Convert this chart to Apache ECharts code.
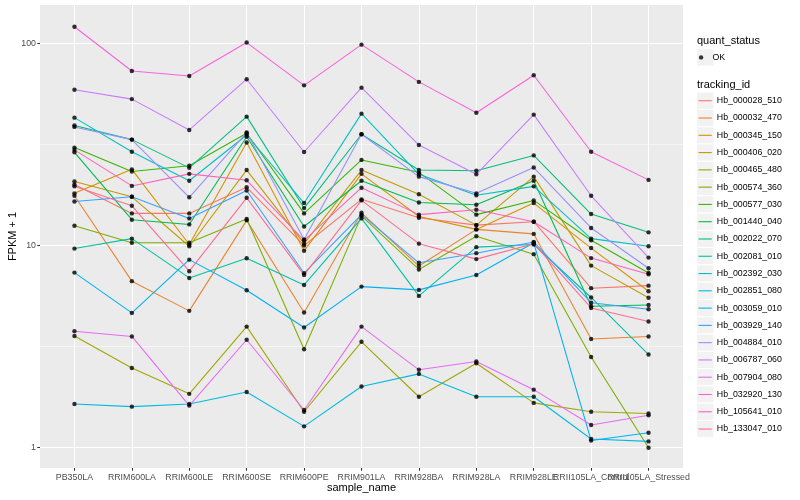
<!DOCTYPE html>
<html><head><meta charset="utf-8">
<script src="https://cdn.jsdelivr.net/npm/echarts@6/dist/echarts.min.js"></script>
<style>html,body{margin:0;padding:0;background:#fff}#c{width:800px;height:500px}</style>
</head><body><div id="c"></div><script>
const categories = ['PB350LA','RRIM600LA','RRIM600LE','RRIM600SE','RRIM600PE','RRIM901LA','RRIM928BA','RRIM928LA','RRIM928LE','RRII105LA_Control','RRII105LA_Stressed'];
const trackingIds = ['Hb_000028_510','Hb_000032_470','Hb_000345_150','Hb_000406_020','Hb_000465_480','Hb_000574_360','Hb_000577_030','Hb_001440_040','Hb_002022_070','Hb_002081_010','Hb_002392_030','Hb_002851_080','Hb_003059_010','Hb_003929_140','Hb_004884_010','Hb_006787_060','Hb_007904_080','Hb_032920_130','Hb_105641_010','Hb_133047_010'];
const colors = ['#F8766D','#EA8331','#D89000','#C09B00','#A3A500','#7CAE00','#39B600','#00BB4E','#00BF7D','#00C1A3','#00BFC4','#00BAE0','#00B0F6','#35A2FF','#9590FF','#C77CFF','#E76BF3','#FA62DB','#FF62BC','#FF6C91'];
const yTickLabels = [1, 10, 100];

const hb_000028_510 = [20.0, 14.4, 14.4, 19.4, 9.99, 16.9, 13.7, 12.6, 13.1, 6.14, 6.32];
const hb_000032_470 = [17.6, 6.65, 4.74, 13.3, 4.65, 14.5, 7.9, 12.0, 11.4, 3.44, 3.54];
const hb_000345_150 = [18.1, 23.8, 10.1, 32.3, 9.4, 22.6, 13.9, 12.0, 16.2, 9.7, 5.93];
const hb_000406_020 = [20.7, 17.4, 9.9, 23.6, 10.2, 23.6, 17.9, 12.6, 21.9, 7.94, 5.5];
const hb_000465_480 = [3.56, 2.47, 1.84, 3.96, 1.50, 3.33, 1.78, 2.61, 1.66, 1.50, 1.47];
const hb_000574_360 = [12.5, 10.3, 10.3, 13.5, 3.06, 14.0, 7.6, 11.1, 9.05, 2.80, 0.995];
const hb_000577_030 = [30.5, 23.2, 24.8, 35.9, 14.4, 26.5, 23.0, 14.2, 16.7, 10.6, 7.3];
const hb_001440_040 = [28.9, 13.4, 12.7, 34.5, 12.4, 20.9, 16.3, 15.9, 20.9, 5.0, 5.07];
const hb_002022_070 = [39.2, 33.4, 24.2, 43.4, 15.3, 35.5, 23.6, 23.4, 27.9, 14.3, 11.6];
const hb_002081_010 = [9.64, 10.8, 6.9, 8.64, 6.37, 13.6, 5.62, 9.8, 10.1, 5.52, 2.88];
const hb_002392_030 = [42.9, 29.1, 20.9, 35.2, 16.2, 44.9, 22.5, 17.7, 19.6, 10.8, 9.9];
const hb_002851_080 = [1.64, 1.59, 1.64, 1.88, 1.27, 2.0, 2.31, 1.78, 1.78, 1.10, 1.07];
const hb_003059_010 = [7.33, 4.63, 8.5, 6.0, 3.92, 6.25, 6.02, 7.14, 10.3, 1.08, 1.18];
const hb_003929_140 = [16.5, 17.4, 13.6, 18.7, 7.28, 14.2, 8.2, 9.15, 10.4, 5.2, 4.83];
const hb_004884_010 = [38.6, 33.4, 17.3, 36.2, 10.7, 35.5, 21.9, 18.1, 24.3, 12.2, 7.7];
const hb_006787_060 = [59, 53, 37.3, 66.5, 29, 60.4, 31.4, 22.5, 44.4, 17.6, 8.7];
const hb_007904_080 = [3.76, 3.54, 1.61, 3.41, 1.53, 3.96, 2.42, 2.66, 1.93, 1.29, 1.44];
const hb_032920_130 = [121, 73, 69, 101, 62, 98.6, 64.5, 45.4, 69.6, 29.1, 21.1];
const hb_105641_010 = [29.7, 19.7, 22.6, 21.0, 10.6, 19.3, 14.2, 15.0, 13.1, 8.65, 7.2];
const hb_133047_010 = [19.6, 15.7, 7.45, 17.2, 7.14, 16.7, 10.2, 8.55, 10.2, 4.9, 4.2];

const seriesValues = [hb_000028_510, hb_000032_470, hb_000345_150, hb_000406_020, hb_000465_480, hb_000574_360, hb_000577_030, hb_001440_040, hb_002022_070, hb_002081_010, hb_002392_030, hb_002851_080, hb_003059_010, hb_003929_140, hb_004884_010, hb_006787_060, hb_007904_080, hb_032920_130, hb_105641_010, hb_133047_010];

const FONT = 'Liberation Sans, Arial, sans-serif';
const panel = {left: 40, right: 683, top: 5, bottom: 468};
const keySize = 17.28;
const legendTop2 = 92.1;

const chart = echarts.init(document.getElementById('c'), null, {renderer: 'canvas'});

const lineSeries = trackingIds.map((id, k) => ({
  name: id,
  type: 'line',
  color: colors[k],
  showSymbol: false,
  symbol: 'none',
  lineStyle: {width: 1.07, color: colors[k]},
  data: seriesValues[k].map((v, i) => [i, v]),
  z: 2,
  silent: true,
  animation: false
}));

const allPoints = [];
seriesValues.forEach(arr => arr.forEach((v, i) => allPoints.push([i, v])));

const catIdx = categories.map((c, i) => i);
const evenIdx = catIdx.filter(i => i % 2 === 0);
const oddIdx = catIdx.filter(i => i % 2 === 1);

const graphics = [];
graphics.push({type: 'rect', z: 0, shape: {x: 696.7, y: 57.4 - keySize/2, width: keySize, height: keySize}, style: {fill: '#F2F2F2', stroke: '#fff', lineWidth: 1}});
trackingIds.forEach((id, k) => {
  graphics.push({type: 'rect', z: 0, shape: {x: 696.7, y: legendTop2 + k*keySize, width: keySize, height: keySize}, style: {fill: '#F2F2F2', stroke: '#fff', lineWidth: 1}});
});
graphics.push({type: 'text', z: 1, left: 697, top: 35, style: {text: 'quant_status', fontSize: 11, fontFamily: FONT, fill: '#000'}});
graphics.push({type: 'text', z: 1, left: 697, top: 79, style: {text: 'tracking_id', fontSize: 11, fontFamily: FONT, fill: '#000'}});

const xLabelStyle = {fontSize: 8.8, color: '#4D4D4D', fontFamily: FONT, margin: 5, hideOverlap: false, formatter: v => categories[Math.round(v)] || ''};

const option = {
  animation: false,
  backgroundColor: '#fff',
  grid: {left: panel.left, right: 800 - panel.right, top: panel.top, bottom: 500 - panel.bottom, show: true, backgroundColor: '#EBEBEB', borderWidth: 0, containLabel: false, outerBoundsMode: 'none'},
  xAxis: [{
    type: 'value', min: -0.6, max: 10.6, position: 'bottom',
    name: 'sample_name', nameLocation: 'middle', nameGap: 14.5, nameMoveOverlap: false,
    nameTextStyle: {fontSize: 11, color: '#000', fontFamily: FONT},
    axisLine: {show: false, onZero: false},
    axisTick: {show: true, length: 2.75, lineStyle: {color: '#333', width: 1.07}, customValues: catIdx},
    axisLabel: Object.assign({customValues: evenIdx}, xLabelStyle),
    splitLine: {show: true, lineStyle: {color: '#fff', width: 1.07}}
  }, {
    type: 'value', min: -0.6, max: 10.6, position: 'bottom',
    axisLine: {show: false, onZero: false},
    axisTick: {show: false, customValues: oddIdx},
    axisLabel: Object.assign({customValues: oddIdx}, xLabelStyle),
    splitLine: {show: false}
  }],
  yAxis: [{
    type: 'log', logBase: 10, min: 0.79, max: 155, position: 'left',
    name: 'FPKM + 1', nameLocation: 'middle', nameGap: 22, nameMoveOverlap: false,
    nameTextStyle: {fontSize: 11, color: '#000', fontFamily: FONT},
    axisLine: {show: false, onZero: false},
    axisTick: {show: true, length: 2.75, lineStyle: {color: '#333', width: 1.07}, customValues: yTickLabels},
    axisLabel: {fontSize: 8.8, color: '#4D4D4D', fontFamily: FONT, margin: 4, customValues: yTickLabels, formatter: v => String(Math.round(v))},
    splitLine: {show: true, lineStyle: {color: '#fff', width: 1.07}}
  }, {
    type: 'log', logBase: 10, min: 0.79, max: 155, position: 'left',
    axisLine: {show: false, onZero: false},
    axisTick: {show: false, customValues: [Math.sqrt(10), Math.sqrt(1000)]},
    axisLabel: {show: false, customValues: [Math.sqrt(10), Math.sqrt(1000)]},
    splitLine: {show: true, lineStyle: {color: '#fff', width: 0.53}}
  }],
  legend: [{
    data: ['OK'], orient: 'vertical', left: 698.9, top: 57.4 - keySize/2, padding: 0,
    icon: 'circle', itemWidth: 12.8, itemHeight: 4.4, itemGap: 0, selectedMode: false,
    textStyle: {fontSize: 8.8, color: '#000', fontFamily: FONT, lineHeight: keySize},
    itemStyle: {color: '#000'}
  }, {
    data: trackingIds.map((id, k) => ({name: id, itemStyle: {color: colors[k]}})),
    orient: 'vertical', left: 698.5, top: legendTop2, padding: 0,
    icon: 'rect', itemWidth: 13.3, itemHeight: 1.1, itemGap: 0, selectedMode: false,
    textStyle: {fontSize: 8.8, color: '#000', fontFamily: FONT, lineHeight: keySize}
  }],
  graphic: graphics,
  series: lineSeries.concat([{
    name: 'OK', type: 'scatter', symbol: 'circle', symbolSize: 4.4,
    itemStyle: {color: '#000'}, data: allPoints, z: 3, silent: true
  }])
};
chart.setOption(option);
</script></body></html>
